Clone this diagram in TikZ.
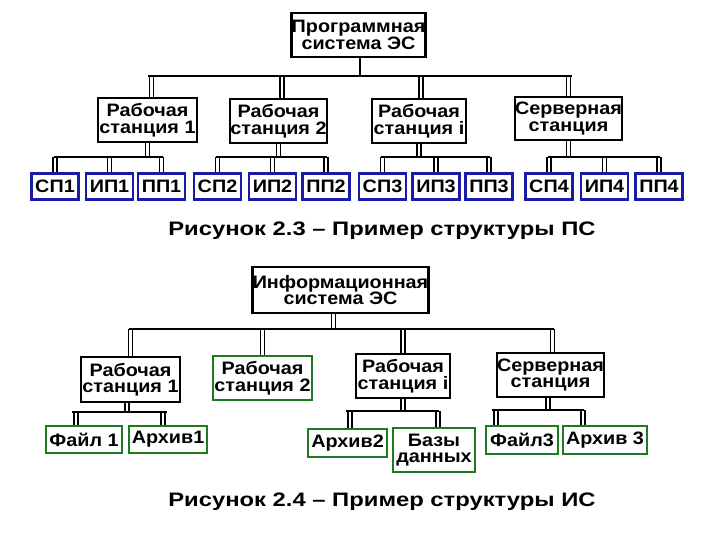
\documentclass[tikz,border=0pt]{standalone}
\usepackage{fontspec}
\setmainfont{Liberation Sans}[FakeStretch=1.1]
\newfontfamily\capfont{Liberation Sans}[FakeStretch=1.22]
\usetikzlibrary{calc}
\definecolor{bblue}{RGB}{26,26,168}
\definecolor{bgreen}{RGB}{30,122,30}
\tikzset{
  bx/.style={draw=black, line width=2.7pt, fill=white, inner sep=0pt, align=center,
    font=\fontsize{18}{16.5}\selectfont\bfseries},
  bbx/.style={bx, draw=bblue},
  gbx/.style={bx, draw=bgreen, line width=2.3pt},
  bus/.style={line width=2.4pt, line cap=rect},
  dbl/.style={double, line width=1.7pt, double distance=2.2pt},
  captxt/.style={font=\capfont\fontsize{19.5}{20}\selectfont\bfseries}
}
\begin{document}
\begin{tikzpicture}[x=1pt,y=-1pt]
\useasboundingbox (0,0) rectangle (720,540);
% ---------- Figure 2.3 ----------
\node[bx, minimum width=129, minimum height=44] (r1) at (358.5,35) {Программная\\система ЭС};
\node[bx, minimum width=99, minimum height=44] (w1) at (147.5,120) {Рабочая\\станция 1};
\node[bx, minimum width=97, minimum height=44] (w2) at (278.5,121) {Рабочая\\станция 2};
\node[bx, minimum width=94, minimum height=44] (wi) at (419,121) {Рабочая\\станция i};
\node[bx, minimum width=107, minimum height=43] (sv) at (568.5,118.5) {Серверная\\станция};
\coordinate (bus1) at (0,76);
\draw[line width=2pt] ([xshift=1.5pt]r1.south) -- ([xshift=1.5pt]r1.south |- bus1);
\draw[dbl] ([xshift=4pt]w1.north |- bus1) -- ([xshift=4pt]w1.north);
\draw[dbl] ([xshift=3.5pt]w2.north |- bus1) -- ([xshift=3.5pt]w2.north);
\draw[dbl] ([xshift=2pt]wi.north |- bus1) -- ([xshift=2pt]wi.north);
\draw[dbl] (sv.north |- bus1) -- (sv.north);
\draw[bus] ([xshift=2pt]w1.north |- bus1) -- ([xshift=2pt]sv.north |- bus1);

\foreach \n/\t/\c in {sp1/СП1/55, ip1/ИП1/109.5, pp1/ПП1/161.5,
                      sp2/СП2/217.5, ip2/ИП2/272.5, pp2/ПП2/326,
                      sp3/СП3/382.5, ip3/ИП3/436, pp3/ПП3/489,
                      sp4/СП4/549, ip4/ИП4/604.5, pp4/ПП4/659}
  \node[bbx, minimum width=47, minimum height=26] (\n) at (\c,186.5) {\t};
\coordinate (sb) at (0,157);
\foreach \w/\a/\b/\cc in {w1/sp1/ip1/pp1, w2/sp2/ip2/pp2, wi/sp3/ip3/pp3, sv/sp4/ip4/pp4}{
  \draw[dbl] (\w.south) -- (\w.south |- sb);
  \foreach \k in {\a,\b,\cc}
    \draw[dbl] (\k.north |- sb) -- (\k.north);
  \draw[bus] (\a.north |- sb) -- (\cc.north |- sb);
}
\node[captxt] (c1) at (382,231) {Рисунок 2.3 – Пример структуры ПС};

% ---------- Figure 2.4 ----------
\node[bx, minimum width=165, minimum height=46] (r2) at (340.5,290) {Информационная\\система ЭС};
\node[bx, minimum width=99, minimum height=45] (v1) at (130.5,379.5) {Рабочая\\станция 1};
\node[gbx, minimum width=99, minimum height=44] (v2) at (262.5,378) {Рабочая\\станция 2};
\node[bx, minimum width=94, minimum height=44] (vi) at (403,376) {Рабочая\\станция i};
\node[bx, minimum width=107, minimum height=44] (vs) at (550.5,375) {Серверная\\станция};
\coordinate (bus2) at (0,329);
\draw[dbl] ([xshift=-7pt]r2.south) -- ([xshift=-7pt]r2.south |- bus2);
\foreach \v/\s in {v1/0, v2/0, vi/0, vs/2}
  \draw[dbl] ([xshift=\s pt]\v.north |- bus2) -- ([xshift=\s pt]\v.north);
\draw[bus] (v1.north |- bus2) -- ([xshift=2pt]vs.north |- bus2);

\node[gbx, minimum width=76, minimum height=27] (f1) at (84,439.5) {Файл 1};
\node[gbx, minimum width=78, minimum height=27] (a1) at (168,439.5) {Архив1};
\node[gbx, minimum width=79, minimum height=28] (a2) at (347.5,443) {Архив2};
\node[gbx, minimum width=82, minimum height=44] (db) at (434,450) {Базы\\данных};
\node[gbx, minimum width=72, minimum height=28] (f3) at (522,440) {Файл3};
\node[gbx, minimum width=84, minimum height=28] (a3) at (605,440) {Архив 3};

\coordinate (sb1) at (0,412);
\draw[dbl] ([xshift=-3.5pt]v1.south) -- ([xshift=-3.5pt]v1.south |- sb1);
\draw[dbl] ([xshift=-8pt]f1.north |- sb1) -- ([xshift=-8pt]f1.north);
\draw[dbl] ([xshift=-5pt]a1.north |- sb1) -- ([xshift=-5pt]a1.north);
\draw[bus] ([xshift=-11pt]f1.north |- sb1) -- ([xshift=-2pt]a1.north |- sb1);

\coordinate (sb2) at (0,411);
\draw[dbl] (vi.south) -- (vi.south |- sb2);
\draw[dbl] ([xshift=2.5pt]a2.north |- sb2) -- ([xshift=2.5pt]a2.north);
\draw[dbl] ([xshift=4pt]db.north |- sb2) -- ([xshift=4pt]db.north);
\draw[bus] ([xshift=0pt]a2.north |- sb2) -- ([xshift=4pt]db.north |- sb2);

\coordinate (sb3) at (0,410);
\draw[dbl] ([xshift=-2.5pt]vs.south) -- ([xshift=-2.5pt]vs.south |- sb3);
\draw[dbl] ([xshift=-26pt]f3.north |- sb3) -- ([xshift=-26pt]f3.north);
\draw[dbl] ([xshift=-22pt]a3.north |- sb3) -- ([xshift=-22pt]a3.north);
\draw[bus] ([xshift=-29pt]f3.north |- sb3) -- ([xshift=-22pt]a3.north |- sb3);

\node[captxt] (c2) at (382,502) {Рисунок 2.4 – Пример структуры ИС};
\end{tikzpicture}
\end{document}
